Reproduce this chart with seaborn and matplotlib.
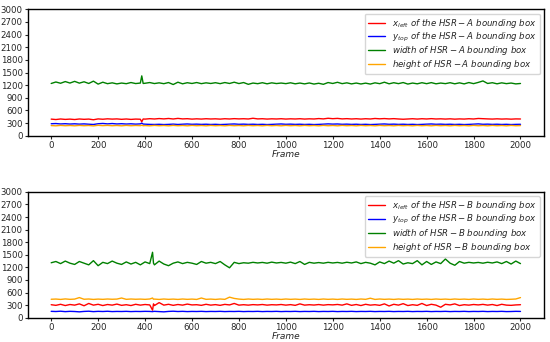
import numpy as np
import pandas as pd
import seaborn as sns
import matplotlib
matplotlib.use('Agg')
from matplotlib import pyplot as plt

# frames (panel A has a spike near 386, panel B near 432)
frames_a = list(range(0, 381, 20)) + [386, 392] + list(range(400, 2001, 20))
frames_b = list(range(0, 421, 20)) + [432, 436] + list(range(440, 2001, 20))

# HSR-A bounding box
a_xleft = [395, 385, 398, 388, 395, 385, 398, 390, 396, 380, 400, 392, 402, 395, 400, 390, 398, 388, 396, 392,
           330, 398,
           395, 405, 398, 408, 400, 410, 398, 412, 400, 405, 395, 402, 396, 404, 398, 402, 395, 404, 398, 406,
           400, 404, 398, 415, 400, 404, 396, 402, 398, 404, 396, 402, 398, 404, 396, 402, 398, 408, 400, 415,
           405, 412, 400, 406, 398, 404, 396, 404, 398, 410, 402, 408, 400, 406, 398, 392, 398, 404, 396, 404,
           398, 406, 398, 402, 396, 402, 394, 400, 396, 404, 398, 410, 405, 400, 396, 402, 396, 400, 394, 400, 398]
a_ytop = [285, 290, 280, 286, 278, 284, 276, 282, 274, 268, 285, 292, 282, 290, 280, 286, 278, 284, 276, 282,
          300, 278,
          275, 270, 268, 272, 266, 270, 276, 268, 274, 280, 272, 276, 270, 274, 268, 272, 266, 270, 275, 280,
          272, 276, 270, 274, 268, 272, 266, 270, 275, 280, 272, 276, 270, 274, 268, 272, 266, 270, 275, 282,
          276, 280, 272, 276, 270, 274, 268, 272, 266, 270, 275, 280, 272, 276, 270, 274, 268, 272, 266, 270,
          275, 280, 272, 276, 270, 274, 268, 272, 266, 270, 275, 282, 272, 276, 270, 274, 268, 272, 266, 270, 272]
a_width = [1240, 1275, 1245, 1285, 1250, 1290, 1248, 1280, 1240, 1295, 1225, 1270, 1235, 1255, 1230, 1250, 1235, 1262, 1238, 1250,
           1420, 1240,
           1245, 1262, 1238, 1255, 1235, 1262, 1215, 1270, 1232, 1258, 1240, 1262, 1236, 1255, 1240, 1258, 1236, 1262, 1240, 1270,
           1238, 1262, 1220, 1250, 1235, 1258, 1232, 1255, 1238, 1250, 1236, 1256, 1232, 1250, 1230, 1252, 1226, 1245, 1220, 1262,
           1240, 1268, 1236, 1255, 1230, 1250, 1228, 1248, 1226, 1255, 1235, 1270, 1232, 1258, 1236, 1262, 1226, 1250, 1232, 1258,
           1235, 1260, 1232, 1250, 1236, 1258, 1232, 1255, 1230, 1262, 1236, 1265, 1300, 1240, 1258, 1232, 1255, 1236, 1250, 1230, 1240]
a_height = [242, 236, 246, 238, 244, 236, 246, 238, 244, 234, 248, 240, 246, 238, 244, 236, 246, 238, 244, 240,
            250, 238,
            242, 236, 246, 238, 244, 236, 246, 238, 244, 236, 246, 238, 244, 236, 246, 238, 244, 236, 246, 238,
            244, 236, 246, 238, 244, 236, 246, 238, 244, 236, 246, 238, 244, 236, 246, 238, 244, 236, 246, 238,
            244, 236, 246, 238, 244, 236, 246, 238, 244, 236, 246, 238, 244, 236, 246, 238, 244, 236, 246, 238,
            244, 236, 246, 238, 244, 236, 246, 238, 244, 236, 246, 238, 244, 236, 246, 238, 244, 236, 246, 238, 242]

# HSR-B bounding box
b_xleft = [310, 295, 320, 290, 315, 300, 330, 285, 340, 300, 320, 290, 315, 300, 325, 295, 310, 290, 320, 300, 315, 305,
           180, 330,
           290, 360, 300, 320, 295, 315, 300, 325, 305, 310, 295, 320, 300, 312, 295, 318, 305, 340, 300, 310,
           300, 312, 305, 315, 300, 310, 305, 315, 300, 312, 295, 330, 300, 310, 302, 314, 300, 312, 306, 316,
           300, 330, 295, 315, 290, 320, 300, 310, 295, 330, 280, 320, 300, 335, 290, 310, 295, 340, 290, 320,
           300, 250, 320, 305, 330, 290, 310, 300, 315, 305, 318, 300, 315, 290, 320, 300, 295, 305, 310]
b_ytop = [152, 148, 155, 145, 152, 148, 140, 150, 155, 145, 152, 148, 154, 146, 150, 148, 152, 146, 150, 148, 152, 150,
          145, 150,
          152, 146, 140, 150, 155, 148, 152, 146, 150, 148, 152, 146, 150, 148, 152, 146, 150, 148, 152, 146,
          150, 148, 152, 146, 150, 148, 152, 146, 150, 148, 152, 146, 150, 148, 152, 146, 150, 148, 152, 146,
          150, 148, 152, 146, 150, 148, 152, 146, 150, 148, 152, 146, 150, 148, 152, 146, 150, 148, 152, 146,
          150, 148, 152, 146, 150, 148, 152, 146, 150, 148, 152, 146, 150, 148, 152, 146, 148, 152, 150]
b_width = [1310, 1340, 1290, 1350, 1300, 1270, 1340, 1300, 1260, 1360, 1240, 1320, 1290, 1350, 1300, 1270, 1330, 1280, 1320, 1260, 1330, 1290,
           1560, 1300,
           1260, 1350, 1280, 1240, 1300, 1330, 1290, 1320, 1300, 1270, 1340, 1300, 1320, 1290, 1340, 1260, 1190, 1320,
           1290, 1310, 1300, 1320, 1305, 1318, 1300, 1325, 1305, 1318, 1300, 1325, 1290, 1340, 1270, 1320, 1300, 1315,
           1300, 1320, 1305, 1318, 1300, 1322, 1305, 1330, 1290, 1320, 1300, 1260, 1330, 1290, 1350, 1300, 1360, 1280,
           1310, 1290, 1360, 1260, 1340, 1270, 1330, 1290, 1400, 1300, 1250, 1340, 1300, 1320, 1305, 1318, 1300, 1322,
           1305, 1330, 1290, 1340, 1280, 1350, 1290]
b_height = [440, 445, 436, 448, 438, 444, 480, 440, 446, 436, 444, 438, 446, 440, 444, 470, 438, 446, 440, 444, 438, 446,
            470, 440,
            444, 436, 446, 438, 444, 436, 446, 438, 444, 436, 470, 438, 444, 436, 446, 438, 490, 460, 444, 436,
            446, 438, 444, 436, 446, 438, 444, 436, 446, 438, 444, 436, 446, 438, 444, 436, 446, 438, 444, 436,
            446, 438, 444, 436, 446, 438, 465, 436, 446, 438, 444, 436, 446, 438, 444, 436, 446, 438, 444, 436,
            446, 438, 444, 436, 446, 438, 444, 436, 446, 438, 444, 436, 446, 438, 444, 436, 440, 446, 480]

yticks = list(range(0, 3001, 300))
colors = ['red', 'blue', 'green', 'orange']


def labels(name):
    return [r'$x_{left}\ of\ the\ HSR-' + name + r'\ bounding\ box$',
            r'$y_{top}\ of\ the\ HSR-' + name + r'\ bounding\ box$',
            r'$width\ of\ HSR-' + name + r'\ bounding\ box$',
            r'$height\ of\ HSR-' + name + r'\ bounding\ box$']


sns.set_style('ticks')
plt.rcParams['font.family'] = ['DejaVu Sans']

fig = plt.figure(figsize=(5.5, 3.42), dpi=100)
ax1 = fig.add_axes([0.0504, 0.603, 0.9386, 0.370])
ax2 = fig.add_axes([0.0504, 0.071, 0.9386, 0.368])

for ax, frames, series, name in [(ax1, frames_a, [a_xleft, a_ytop, a_width, a_height], 'A'),
                                 (ax2, frames_b, [b_xleft, b_ytop, b_width, b_height], 'B')]:
    for vals, c, lab in zip(series, colors, labels(name)):
        sns.lineplot(x=frames, y=vals, color=c, lw=1, label=lab, ax=ax)
    ax.set_xlim(-100, 2100)
    ax.set_ylim(0, 3000)
    ax.set_yticks(yticks)
    ax.set_xticks(range(0, 2001, 200))
    ax.tick_params(labelsize=6.2, length=2, width=0.8, pad=1.5)
    ax.set_xlabel('Frame', fontsize=6.5, style='italic', labelpad=0)
    for s in ax.spines.values():
        s.set_linewidth(1)
        s.set_color('black')
    ax.legend(loc='upper right', fontsize=6.2, frameon=True, handlelength=2,
              borderpad=0.35, labelspacing=0.1, framealpha=0.8)

fig.savefig('out.png', dpi=100)
